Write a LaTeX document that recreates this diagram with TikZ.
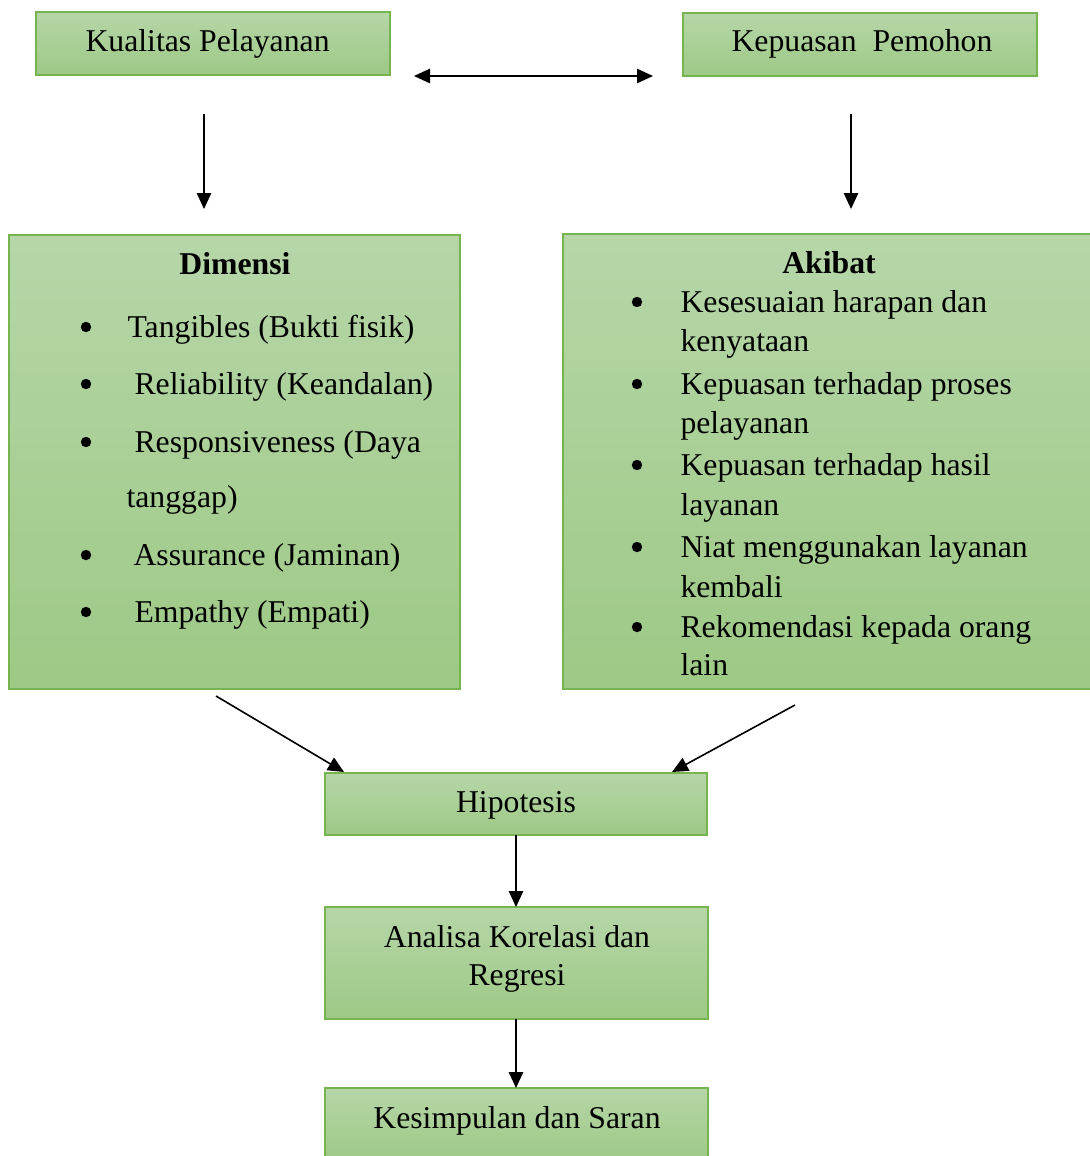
\documentclass[tikz,border=0pt]{standalone}
\usepackage{fontspec}
\setmainfont{Liberation Serif}
\usetikzlibrary{arrows.meta,fit}
\definecolor{gtop}{RGB}{182,214,168}
\definecolor{gbot}{RGB}{157,201,133}
\definecolor{gline}{RGB}{118,180,80}
\tikzset{
  gbox/.style={draw=gline, line width=0.55pt, top color=gtop, bottom color=gbot, inner sep=0pt, rectangle},
  txt/.style={inner sep=0pt, font=\fontsize{11.9}{14}\selectfont},
  conn/.style={line width=0.6pt, -{Triangle[length=6pt,width=5.4pt]}},
  dconn/.style={line width=0.6pt, {Triangle[length=6pt,width=5.4pt]}-{Triangle[length=6pt,width=5.4pt]}}
}
\begin{document}
\begin{tikzpicture}[x=0.375pt,y=-0.375pt]
\useasboundingbox (0,0) rectangle (1089,1156);
% boxes
\node[gbox, fit={(36,12) (390,75)}] (kp) {};
\node[gbox, fit={(683,13) (1037,76)}] (kep) {};
\node[gbox, fit={(9,235) (460,689)}] (dim) {};
\node[gbox, fit={(563,234) (1096,689)}] (aki) {};
\node[gbox, fit={(325,773) (707,835)}] (hip) {};
\node[gbox, fit={(325,907) (708,1019)}] (ana) {};
\node[gbox, fit={(325,1088) (708,1162)}] (kes) {};
% box texts
\node[txt, anchor=base west] (tkp) at (85,52) {Kualitas Pelayanan};
\node[txt, anchor=base west] (tkep) at (731,52) {Kepuasan\ \ Pemohon};
\node[txt, anchor=base] (thip) at (516,812) {Hipotesis};
\node[txt, anchor=base] (tana1) at (517,947) {Analisa Korelasi dan};
\node[txt, anchor=base] (tana2) at (517,985) {Regresi};
\node[txt, anchor=base] (tkes) at (517,1128) {Kesimpulan dan Saran};
% Dimensi
\node[txt, anchor=base, font=\fontsize{11.9}{14}\selectfont\bfseries] (tdim) at (235,274) {Dimensi};
\foreach \y in {337,394,452,565,622} \fill (86,\y-10) circle (5.2);
\node[txt, anchor=base west] (d1) at (127,337) {Tangibles (Bukti fisik)};
\node[txt, anchor=base west] (d2) at (134,394) {Reliability (Keandalan)};
\node[txt, anchor=base west] (d3) at (134,452) {Responsiveness (Daya};
\node[txt, anchor=base west] (d3b) at (126,507) {tanggap)};
\node[txt, anchor=base west] (d4) at (133,565) {Assurance (Jaminan)};
\node[txt, anchor=base west] (d5) at (134,622) {Empathy (Empati)};
% Akibat
\node[txt, anchor=base, font=\fontsize{11.9}{14}\selectfont\bfseries] (taki) at (829,273) {Akibat};
\foreach \y in {312,394,475,557,637} \fill (637,\y-10) circle (5.2);
\node[txt, anchor=base west] (a1) at (680,312) {Kesesuaian harapan dan};
\node[txt, anchor=base west] (a1b) at (680,351) {kenyataan};
\node[txt, anchor=base west] (a2) at (680,394) {Kepuasan terhadap proses};
\node[txt, anchor=base west] (a2b) at (680,433) {pelayanan};
\node[txt, anchor=base west] (a3) at (680,475) {Kepuasan terhadap hasil};
\node[txt, anchor=base west] (a3b) at (680,515) {layanan};
\node[txt, anchor=base west] (a4) at (680,557) {Niat menggunakan layanan};
\node[txt, anchor=base west] (a4b) at (680,597) {kembali};
\node[txt, anchor=base west] (a5) at (680,637) {Rekomendasi kepada orang};
\node[txt, anchor=base west] (a5b) at (680,675) {lain};
% connector endpoints
\coordinate (c1a) at (414,76); \coordinate (c1b) at (653,76);
\coordinate (c2a) at (204,114); \coordinate (c2b) at (204,209);
\coordinate (c3a) at (851,114); \coordinate (c3b) at (851,209);
\coordinate (c4a) at (216,696); \coordinate (c4b) at (344,772);
\coordinate (c5a) at (795,705); \coordinate (c5b) at (672,772);
\coordinate (c6a) at (516,835); \coordinate (c6b) at (516,907);
\coordinate (c7a) at (516,1019); \coordinate (c7b) at (516,1088);
\draw[dconn] (c1a) -- (c1b);
\draw[conn] (c2a) -- (c2b);
\draw[conn] (c3a) -- (c3b);
\draw[conn] (c4a) -- (c4b);
\draw[conn] (c5a) -- (c5b);
\draw[conn] (c6a) -- (c6b);
\draw[conn] (c7a) -- (c7b);
\end{tikzpicture}
\end{document}
